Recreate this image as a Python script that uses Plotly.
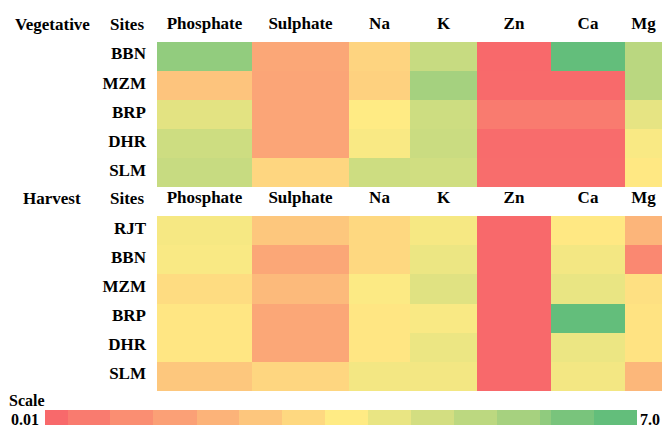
import plotly.graph_objects as go

# ---------------- data ----------------
PARAMS = ["Phosphate", "Sulphate", "Na", "K", "Zn", "Ca", "Mg"]

SITES_VEG = ["BBN", "MZM", "BRP", "DHR", "SLM"]
VEG_BBN = [5.95, 1.69, 2.88, 4.76, 0.01, 7.00, 5.04]
VEG_MZM = [2.46, 1.62, 2.81, 5.53, 0.05, 0.05, 5.04]
VEG_BRP = [4.13, 1.62, 3.50, 4.62, 0.50, 0.50, 4.06]
VEG_DHR = [4.62, 1.62, 3.64, 4.69, 0.08, 0.08, 3.64]
VEG_SLM = [4.76, 2.95, 4.62, 4.55, 0.12, 0.12, 3.43]

SITES_HARV = ["RJT", "BBN", "MZM", "BRP", "DHR", "SLM"]
HARV_RJT = [3.71, 2.53, 3.00, 3.71, 0.01, 3.43, 2.04]
HARV_BBN = [3.64, 1.69, 3.00, 3.92, 0.01, 3.78, 0.85]
HARV_MZM = [3.09, 2.18, 3.57, 4.20, 0.01, 3.99, 3.22]
HARV_BRP = [3.36, 1.69, 3.36, 3.64, 0.01, 7.00, 3.29]
HARV_DHR = [3.36, 1.69, 3.36, 3.92, 0.01, 3.92, 3.29]
HARV_SLM = [2.53, 2.95, 3.78, 3.78, 0.01, 3.78, 2.11]

SCALE_MIN, SCALE_MAX = 0.01, 7.0
SCALE_VALUES = [0.01, 0.5, 1.0, 1.5, 2.0, 2.5, 3.0, 3.5, 4.0, 4.5, 5.0, 5.5, 6.0, 6.5, 7.0]

# ---------------- layout constants ----------------
W, H = 662, 428
COL_WIDTHS = [95, 97, 61, 67, 74, 74, 37]          # column widths in px
SCALE_WIDTHS = [22.7, 42.3, 43.3, 43.2, 42.5, 43, 43, 43, 43, 43, 42.7, 43.3, 10.7, 43.3, 42.7]
FONT = "Liberation Serif"
FS = 17
FS_SCALE = 16
COLORSCALE = [[0, "#F8696B"], [0.5, "#FFEB84"], [1, "#63BE7B"]]

def edges(widths):
    out = [0]
    for w in widths:
        out.append(out[-1] + w)
    return out

col_edges = edges(COL_WIDTHS)
col_centers = [(a + b) / 2 for a, b in zip(col_edges[:-1], col_edges[1:])]
scale_edges = edges(SCALE_WIDTHS)

def py(px):  # pixel y (from top) -> paper
    return 1 - px / H

def pxx(px):
    return px / W

veg_z = [VEG_BBN, VEG_MZM, VEG_BRP, VEG_DHR, VEG_SLM]
harv_z = [HARV_RJT, HARV_BBN, HARV_MZM, HARV_BRP, HARV_DHR, HARV_SLM]

fig = go.Figure()
fig.add_trace(go.Heatmap(z=veg_z, x=col_edges, y=SITES_VEG, xaxis="x", yaxis="y",
                         zmin=SCALE_MIN, zmax=SCALE_MAX, colorscale=COLORSCALE,
                         showscale=False, hoverinfo="skip"))
fig.add_trace(go.Heatmap(z=harv_z, x=col_edges, y=SITES_HARV, xaxis="x2", yaxis="y2",
                         zmin=SCALE_MIN, zmax=SCALE_MAX, colorscale=COLORSCALE,
                         showscale=False, hoverinfo="skip"))
fig.add_trace(go.Heatmap(z=[SCALE_VALUES], x=scale_edges, y=[0], xaxis="x3", yaxis="y3",
                         zmin=SCALE_MIN, zmax=SCALE_MAX, colorscale=COLORSCALE,
                         showscale=False, hoverinfo="skip"))

tickfont = dict(family=FONT, size=FS, color="black", weight="bold")
xcommon = dict(range=[0, sum(COL_WIDTHS)], domain=[pxx(157), 1], side="top",
               tickmode="array", tickvals=col_centers, ticktext=PARAMS,
               showgrid=False, zeroline=False, showline=False, ticks="",
               tickfont=tickfont, ticklabelstandoff=9, fixedrange=True)
ycommon = dict(autorange="reversed", showgrid=False, zeroline=False, showline=False,
               ticks="", tickfont=tickfont, ticklabelstandoff=10, ticklabelshift=3,
               fixedrange=True)

fig.update_layout(
    width=W, height=H,
    margin=dict(l=0, r=0, t=0, b=0),
    paper_bgcolor="white", plot_bgcolor="white",
    font=dict(family=FONT, size=FS, color="black"),
    xaxis=dict(**xcommon, anchor="y"),
    yaxis=dict(**ycommon, domain=[py(187.3), py(42)], anchor="x"),
    xaxis2=dict(**xcommon, anchor="y2"),
    yaxis2=dict(**ycommon, domain=[py(391), py(216)], anchor="x2"),
    xaxis3=dict(range=[0, sum(SCALE_WIDTHS)], domain=[pxx(45), pxx(637)], visible=False,
                anchor="y3", fixedrange=True),
    yaxis3=dict(domain=[py(425), py(410)], visible=False, anchor="x3", fixedrange=True),
    showlegend=False,
)

def ann(text, x, y, xanchor="center", size=FS):
    fig.add_annotation(text=text, x=pxx(x), y=py(y), xref="paper", yref="paper",
                       xanchor=xanchor, yanchor="middle", showarrow=False,
                       font=dict(family=FONT, size=size, color="black", weight="bold"))

ann("Vegetative", 52, 24)
ann("Sites", 146, 24, "right")
ann("Harvest", 52, 198)
ann("Sites", 146, 198, "right")
ann("Scale", 7, 400.5, "left", FS_SCALE)
ann(f"{SCALE_MIN:.2f}", 9, 419, "left", FS_SCALE)
ann(f"{SCALE_MAX:.1f}", 638, 419, "left", FS_SCALE)

fig.write_html("out.html", config={"displayModeBar": False},
               post_script="document.body.style.margin='0';document.body.style.overflow='hidden';")
